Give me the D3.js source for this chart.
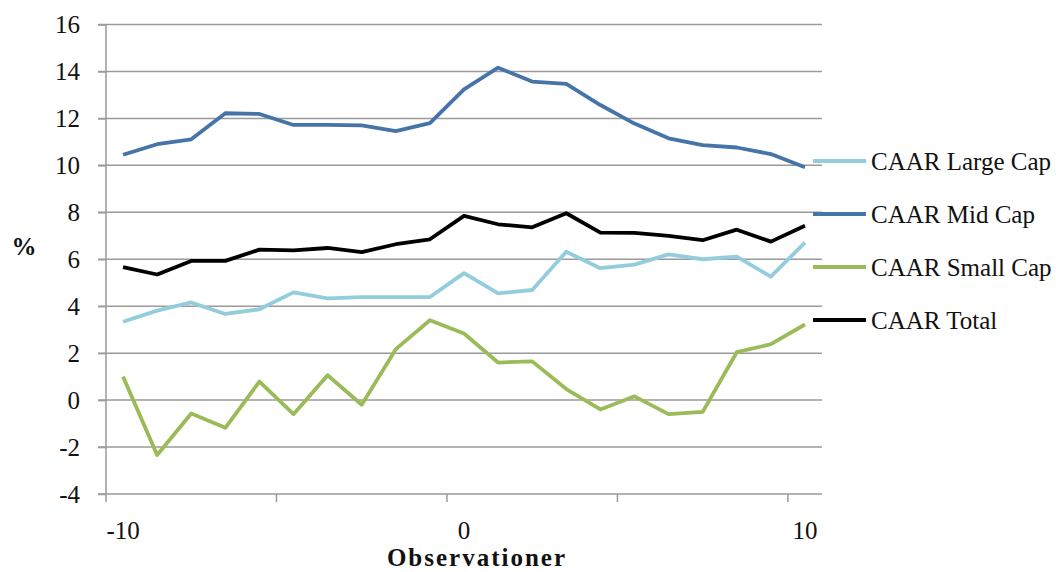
<!DOCTYPE html>
<html>
<head>
<meta charset="utf-8">
<script src="https://cdn.jsdelivr.net/npm/d3@7"></script>
<style>
  body { margin: 0; background: #ffffff; }
  svg { display: block; font-family: 'Liberation Serif', 'DejaVu Serif', serif; }
</style>
</head>
<body>
<svg id="chart" width="1056" height="572"></svg>
<script>
const observations = d3.range(-10, 11);
const xLabelTicks = [-10, 0, 10];
const yTicks = [-4, -2, 0, 2, 4, 6, 8, 10, 12, 14, 16];

const largeCap = [3.34, 3.81, 4.16, 3.67, 3.87, 4.59, 4.33, 4.39, 4.39, 4.39, 5.41,
  4.55, 4.69, 6.32, 5.62, 5.77, 6.21, 6.0, 6.11, 5.26, 6.71];
const midCap = [10.45, 10.9, 11.11, 12.22, 12.19, 11.72, 11.72, 11.7, 11.46, 11.8, 13.24,
  14.16, 13.57, 13.47, 12.57, 11.78, 11.15, 10.86, 10.76, 10.48, 9.92];
const smallCap = [1.0, -2.34, -0.57, -1.18, 0.79, -0.6, 1.06, -0.2, 2.17, 3.4, 2.84,
  1.6, 1.65, 0.47, -0.4, 0.16, -0.6, -0.5, 2.04, 2.38, 3.22];
const total = [5.66, 5.35, 5.93, 5.93, 6.41, 6.38, 6.48, 6.3, 6.64, 6.85, 7.85,
  7.49, 7.36, 7.96, 7.13, 7.12, 7.0, 6.81, 7.26, 6.75, 7.43];

const series = [
  { name: 'CAAR Large Cap', values: largeCap, color: '#93cddd' },
  { name: 'CAAR Mid Cap', values: midCap, color: '#4674a8' },
  { name: 'CAAR Small Cap', values: smallCap, color: '#9bbb59' },
  { name: 'CAAR Total', values: total, color: '#000000' }
];

const area = { left: 106, right: 822, top: 24.5, bottom: 494 };
const fontSize = '25px';
const svg = d3.select('#chart');

const x = d3.scaleBand()
  .domain(observations)
  .range([area.left, area.right])
  .padding(0);
const y = d3.scaleLinear()
  .domain([-4, 16])
  .range([area.bottom, area.top]);
const cx = d => x(d) + x.bandwidth() / 2;

// horizontal gridlines
svg.append('g')
  .selectAll('line')
  .data(yTicks.filter(t => t !== -4))
  .join('line')
  .attr('x1', area.left - 8)
  .attr('x2', area.right)
  .attr('y1', d => y(d))
  .attr('y2', d => y(d))
  .attr('stroke', '#9a9a9a')
  .attr('stroke-width', 1.5);

// y axis
const yAxis = svg.append('g')
  .attr('transform', `translate(${area.left},0)`)
  .call(d3.axisLeft(y).tickValues(yTicks).tickSize(8).tickPadding(18)
    .tickFormat(d => String(d)));
yAxis.select('.domain').remove();
yAxis.selectAll('line').attr('stroke', '#9a9a9a').attr('stroke-width', 1.5);
yAxis.selectAll('text')
  .attr('fill', '#111')
  .style('font-size', fontSize)
  .style('font-family', "'Liberation Serif', serif");
svg.append('line')
  .attr('x1', area.left).attr('x2', area.left)
  .attr('y1', area.top).attr('y2', area.bottom + 8)
  .attr('stroke', '#9a9a9a').attr('stroke-width', 1.5);

// x axis: tick marks every 5 categories, labels every 10
svg.append('line')
  .attr('x1', area.left - 8).attr('x2', area.right)
  .attr('y1', area.bottom).attr('y2', area.bottom)
  .attr('stroke', '#9a9a9a').attr('stroke-width', 1.5);
svg.append('g')
  .selectAll('line')
  .data(observations.filter((d, i) => i % 5 === 0 && i > 0))
  .join('line')
  .attr('x1', d => x(d))
  .attr('x2', d => x(d))
  .attr('y1', area.bottom)
  .attr('y2', area.bottom + 8)
  .attr('stroke', '#9a9a9a').attr('stroke-width', 1.5);
svg.append('g')
  .selectAll('text')
  .data(xLabelTicks)
  .join('text')
  .attr('x', d => cx(d))
  .attr('y', 539)
  .attr('text-anchor', 'middle')
  .style('font-size', fontSize)
  .attr('fill', '#111')
  .text(d => String(d));

// axis titles
svg.append('text')
  .attr('x', 477)
  .attr('y', 566)
  .attr('text-anchor', 'middle')
  .style('font-size', fontSize)
  .style('font-weight', 'bold')
  .style('letter-spacing', '2px')
  .attr('fill', '#111')
  .text('Observationer');
svg.append('text')
  .attr('x', 24)
  .attr('y', 255)
  .attr('text-anchor', 'middle')
  .style('font-size', fontSize)
  .style('font-weight', 'bold')
  .attr('fill', '#111')
  .text('%');

// series lines
const line = d3.line()
  .x((d, i) => cx(observations[i]))
  .y(d => y(d));
svg.append('g')
  .selectAll('path')
  .data(series)
  .join('path')
  .attr('d', d => line(d.values))
  .attr('fill', 'none')
  .attr('stroke', d => d.color)
  .attr('stroke-width', 3.8)
  .attr('stroke-linejoin', 'round');

// legend
const legend = svg.append('g')
  .selectAll('g')
  .data(series)
  .join('g')
  .attr('transform', (d, i) => `translate(813,${161 + i * 53})`);
legend.append('line')
  .attr('x1', 0).attr('x2', 53)
  .attr('stroke', d => d.color)
  .attr('stroke-width', 3.8);
legend.append('text')
  .attr('x', 58)
  .attr('dy', '0.35em')
  .style('font-size', fontSize)
  .attr('fill', '#111')
  .text(d => d.name);
</script>
</body>
</html>
